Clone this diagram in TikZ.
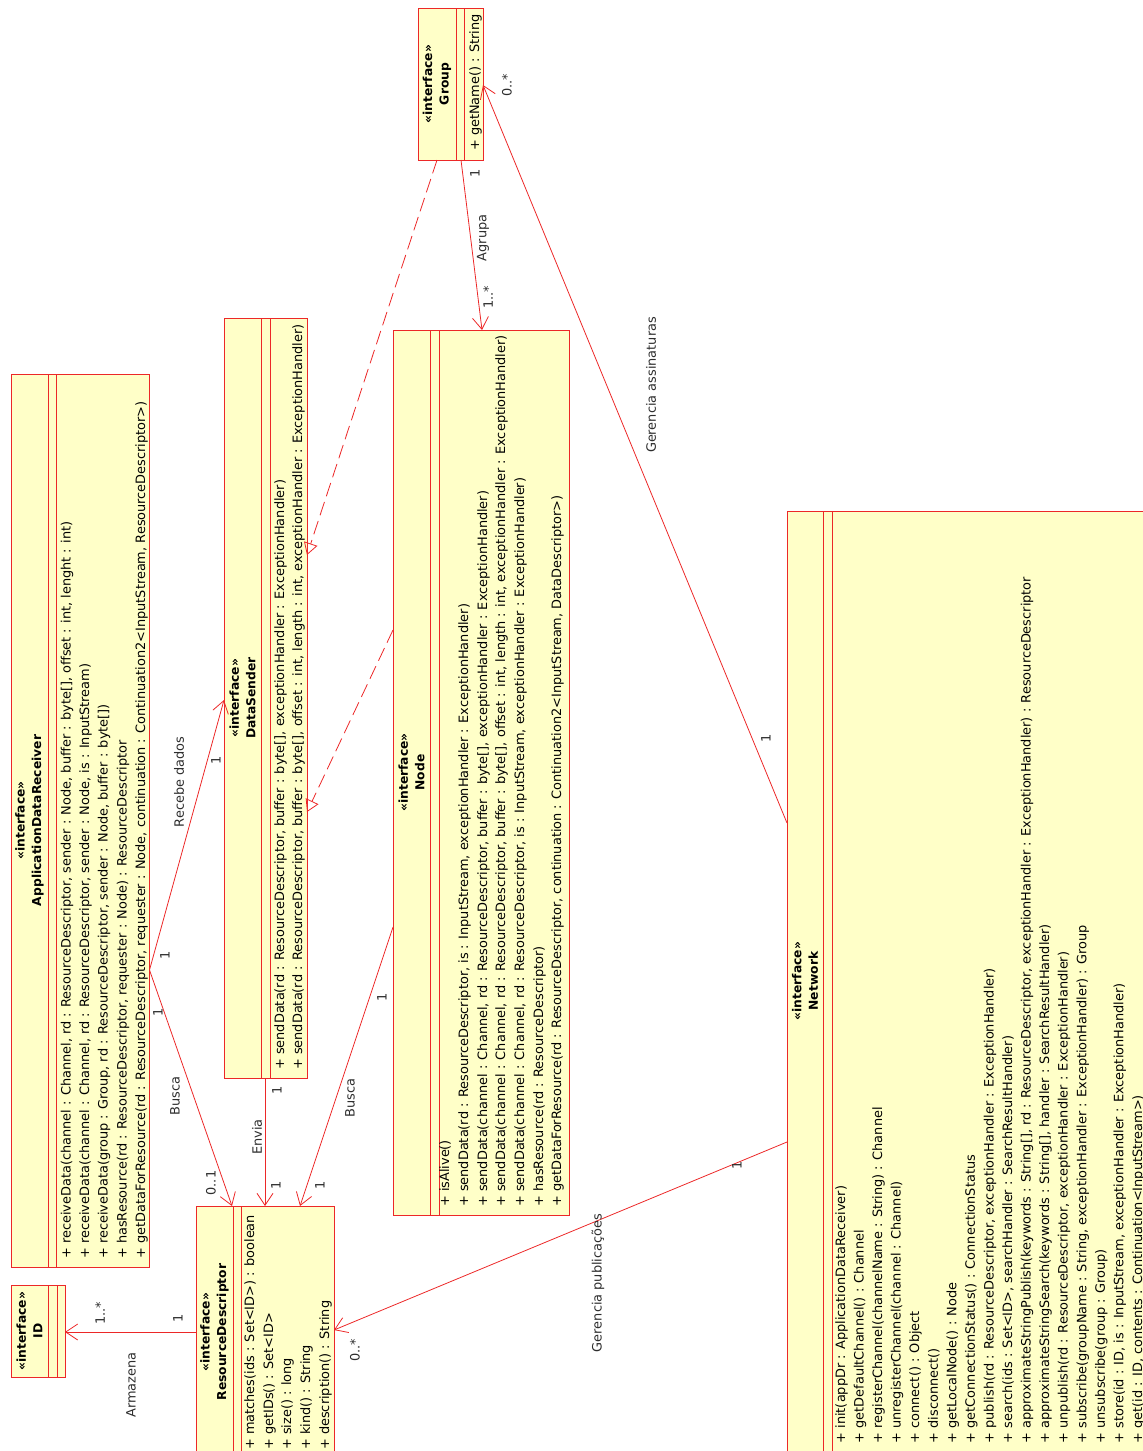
\documentclass[tikz,border=0pt]{standalone}
\usepackage{fontspec}
\setmainfont{DejaVu Sans}
\usetikzlibrary{arrows.meta}
\definecolor{boxfill}{RGB}{255,255,200}
\definecolor{umlred}{RGB}{236,40,40}
\definecolor{lbl}{RGB}{45,45,45}
\tikzset{
  cls/.style={draw=umlred, fill=boxfill, line width=0.9pt, rectangle, inner sep=0pt, anchor=north west},
  sepline/.style={draw=umlred, line width=0.9pt},
  member/.style={rotate=90, anchor=base west, inner sep=0pt, font=\fontsize{12.9}{15}\selectfont},
  head/.style={rotate=90, inner sep=0pt, align=center, font=\bfseries\fontsize{12.3}{16.5}\selectfont},
  assoc/.style={draw=umlred, line width=0.8pt, -{Straight Barb[length=12pt,width=16pt]}},
  realize/.style={draw=umlred, line width=0.8pt, dash pattern=on 14pt off 6pt, -{Triangle[open,length=12pt,width=14pt]}},
  lab/.style={rotate=90, inner sep=0pt, text=lbl, font=\fontsize{12.9}{15}\selectfont},
}
\begin{document}
\begin{tikzpicture}[x=1pt,y=-1pt]
\useasboundingbox (0,0) rectangle (1143,1451);

% ---------------- ApplicationDataReceiver
\node[cls, minimum width=138pt, minimum height=893pt] (adr) at (11,374) {};
\draw[sepline] (48,374) -- (48,1267) (56.5,374) -- (56.5,1267);
\node[head] (adrh) at (29.5,820.5) {«interface»\\ApplicationDataReceiver};
\node[member] (adr1) at (70.5,1259) {+ receiveData(channel : Channel, rd : ResourceDescriptor, sender : Node, buffer : byte[], offset : int, lenght : int)};
\node[member] (adr2) at (89,1259) {+ receiveData(channel : Channel, rd : ResourceDescriptor, sender : Node, is : InputStream)};
\node[member] (adr3) at (107.5,1259) {+ receiveData(group : Group, rd : ResourceDescriptor, sender : Node, buffer : byte[])};
\node[member] (adr4) at (126.5,1259) {+ hasResource(rd : ResourceDescriptor, requester : Node) : ResourceDescriptor};
\node[member] (adr5) at (145,1259) {+ getDataForResource(rd : ResourceDescriptor, requester : Node, continuation : Continuation2<InputStream, ResourceDescriptor>)};

% ---------------- ID
\node[cls, minimum width=54pt, minimum height=92pt] (id) at (11,1285) {};
\draw[sepline] (48,1285) -- (48,1377) (57,1285) -- (57,1377);
\node[head] (idh) at (29.5,1331) {«interface»\\ID};

% ---------------- DataSender
\node[cls, minimum width=83pt, minimum height=760pt] (ds) at (224,318) {};
\draw[sepline] (261,318) -- (261,1078) (270,318) -- (270,1078);
\node[head] (dsh) at (242.5,698) {«interface»\\DataSender};
\node[member] (ds1) at (284,1070) {+ sendData(rd : ResourceDescriptor, buffer : byte[], exceptionHandler : ExceptionHandler)};
\node[member] (ds2) at (302,1070) {+ sendData(rd : ResourceDescriptor, buffer : byte[], offset : int, length : int, exceptionHandler : ExceptionHandler)};

% ---------------- Node
\node[cls, minimum width=176pt, minimum height=885pt] (node) at (393,330) {};
\draw[sepline] (430,330) -- (430,1215) (439,330) -- (439,1215);
\node[head] (nodeh) at (411.5,772.5) {«interface»\\Node};
\node[member] (n1) at (449,1207) {+ isAlive()};
\node[member] (n2) at (468,1207) {+ sendData(rd : ResourceDescriptor, is : InputStream, exceptionHandler : ExceptionHandler)};
\node[member] (n3) at (487,1207) {+ sendData(channel : Channel, rd : ResourceDescriptor, buffer : byte[], exceptionHandler : ExceptionHandler)};
\node[member] (n4) at (505,1207) {+ sendData(channel : Channel, rd : ResourceDescriptor, buffer : byte[], offset : int, length : int, exceptionHandler : ExceptionHandler)};
\node[member] (n5) at (524,1207) {+ sendData(channel : Channel, rd : ResourceDescriptor, is : InputStream, exceptionHandler : ExceptionHandler)};
\node[member] (n6) at (543,1207) {+ hasResource(rd : ResourceDescriptor)};
\node[member] (n7) at (561,1207) {+ getDataForResource(rd : ResourceDescriptor, continuation : Continuation2<InputStream, DataDescriptor>)};

% ---------------- Group
\node[cls, minimum width=65pt, minimum height=152pt] (grp) at (418,8) {};
\draw[sepline] (456,8) -- (456,160) (464,8) -- (464,160);
\node[head] (grph) at (437,84) {«interface»\\Group};
\node[member] (g1) at (479,151) {+ getName() : String};

% ---------------- ResourceDescriptor
\node[cls, minimum width=138pt, minimum height=252pt] (rd) at (196,1206) {};
\draw[sepline] (233,1206) -- (233,1458) (241.5,1206) -- (241.5,1458);
\node[head] (rdh) at (214.5,1332) {«interface»\\ResourceDescriptor};
\node[member] (rd1) at (254,1450) {+ matches(ids : Set<ID>) : boolean};
\node[member] (rd2) at (273,1450) {+ getIDs() : Set<ID>};
\node[member] (rd3) at (291,1450) {+ size() : long};
\node[member] (rd4) at (310,1450) {+ kind() : String};
\node[member] (rd5) at (329,1450) {+ description() : String};

% ---------------- Network
\node[cls, minimum width=380pt, minimum height=941pt] (net) at (787,511) {};
\draw[sepline] (823,511) -- (823,1452) (832,511) -- (832,1452);
\node[head] (neth) at (805,981) {«interface»\\Network};
\node[member] (w1) at (845.0,1443.5) {+ init(appDr : ApplicationDataReceiver)};
\node[member] (w2) at (863.6,1443.5) {+ getDefaultChannel() : Channel};
\node[member] (w3) at (882.1,1443.5) {+ registerChannel(channelName : String) : Channel};
\node[member] (w4) at (900.7,1443.5) {+ unregisterChannel(channel : Channel)};
\node[member] (w5) at (919.2,1443.5) {+ connect() : Object};
\node[member] (w6) at (937.8,1443.5) {+ disconnect()};
\node[member] (w7) at (956.4,1443.5) {+ getLocalNode() : Node};
\node[member] (w8) at (974.9,1443.5) {+ getConnectionStatus() : ConnectionStatus};
\node[member] (w9) at (993.5,1443.5) {+ publish(rd : ResourceDescriptor, exceptionHandler : ExceptionHandler)};
\node[member] (w10) at (1012.0,1443.5) {+ search(ids : Set<ID>, searchHandler : SearchResultHandler)};
\node[member] (w11) at (1030.6,1443.5) {+ approximateStringPublish(keywords : String[], rd : ResourceDescriptor, exceptionHandler : ExceptionHandler) : ResourceDescriptor};
\node[member] (w12) at (1049.2,1443.5) {+ approximateStringSearch(keywords : String[], handler : SearchResultHandler)};
\node[member] (w13) at (1067.7,1443.5) {+ unpublish(rd : ResourceDescriptor, exceptionHandler : ExceptionHandler)};
\node[member] (w14) at (1086.3,1443.5) {+ subscribe(groupName : String, exceptionHandler : ExceptionHandler) : Group};
\node[member] (w15) at (1104.8,1443.5) {+ unsubscribe(group : Group)};
\node[member] (w16) at (1123.4,1443.5) {+ store(id : ID, is : InputStream, exceptionHandler : ExceptionHandler)};
\node[member] (w17) at (1142.0,1443.5) {+ get(id : ID, contents : Continuation<InputStream>)};

% ---------------- attachment points
\coordinate (adrR) at (149.5,970);
\coordinate (dsL) at (224,700);
\coordinate (rdT1) at (232,1206);
\coordinate (dsB) at (265,1078);
\coordinate (rdT2) at (265,1206);
\coordinate (nodeL1) at (393,927);
\coordinate (rdT3) at (300,1206);
\coordinate (rdL) at (196,1332);
\coordinate (idR) at (65,1332);
\coordinate (grpB1) at (461,160);
\coordinate (nodeT) at (482,330);
\coordinate (grpB2) at (437,160);
\coordinate (dsR1) at (307,555);
\coordinate (nodeL2) at (393,630);
\coordinate (dsR2) at (307,812);
\coordinate (netL1) at (787,823);
\coordinate (grpR) at (483,85);
\coordinate (netL2) at (787,1142);
\coordinate (rdR) at (334,1330);

% ---------------- connectors
\draw[assoc] (adrR) -- (dsL);
\draw[assoc] (adrR) -- (rdT1);
\draw[assoc] (dsB) -- (rdT2);
\draw[assoc] (nodeL1) -- (rdT3);
\draw[assoc] (rdL) -- (idR);
\draw[assoc] (grpB1) -- (nodeT);
\draw[realize] (grpB2) -- (dsR1);
\draw[realize] (nodeL2) -- (dsR2);
\draw[assoc] (netL1) -- (grpR);
\draw[assoc] (netL2) -- (rdR);

% ---------------- labels
\node[lab] (l1) at (179,782) {Recebe dados};
\node[lab] (l2) at (165,955) {1};
\node[lab] (l3) at (216,760) {1};
\node[lab] (l4) at (175,1096) {Busca};
\node[lab] (l5) at (158,1012) {1};
\node[lab] (l6) at (211,1183) {0..1};
\node[lab] (l7) at (257,1137) {Envia};
\node[lab] (l8) at (277,1090) {1};
\node[lab] (l9) at (276,1185) {1};
\node[lab] (l10) at (350,1098) {Busca};
\node[lab] (l11) at (382,997) {1};
\node[lab] (l12) at (320,1185) {1};
\node[lab] (l13) at (483,238) {Agrupa};
\node[lab] (l14) at (475,173) {1};
\node[lab] (l15) at (488,297) {1..*};
\node[lab] (l16) at (651,385) {Gerencia assinaturas};
\node[lab] (l17) at (507,85) {0..*};
\node[lab] (l18) at (766,738) {1};
\node[lab] (l19) at (598,1283) {Gerencia publicações};
\node[lab] (l20) at (737,1165) {1};
\node[lab] (l21) at (355,1350) {0..*};
\node[lab] (l22) at (131,1385) {Armazena};
\node[lab] (l23) at (100,1313) {1..*};
\node[lab] (l24) at (178,1318) {1};
\end{tikzpicture}
\end{document}
